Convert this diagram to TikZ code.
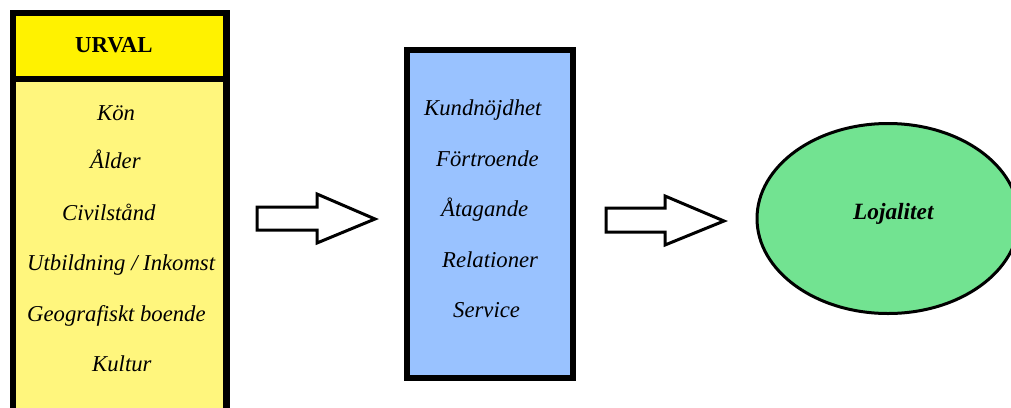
\documentclass[tikz,border=0pt]{standalone}
\usepackage{fontspec}
\setmainfont{Liberation Serif}
\definecolor{hdryellow}{HTML}{FFF200}
\definecolor{lightyellow}{HTML}{FFF67D}
\definecolor{boxblue}{HTML}{99C2FF}
\definecolor{ellgreen}{HTML}{72E391}
\begin{document}
\begin{tikzpicture}[x=1pt,y=-1pt,
  item/.style={anchor=base west,inner sep=0pt,font=\fontsize{22.7}{26}\selectfont\itshape},
  heading/.style={anchor=base west,inner sep=0pt,font=\fontsize{22.8}{26}\selectfont\bfseries},
  blockarrow/.style={draw=black,fill=white,line width=3pt,line join=miter},
  frame/.style={draw=black,line width=6.5pt}]
\useasboundingbox (0,0) rectangle (1011,407);
\clip (0,0) rectangle (1011,407);
% left box
\fill[lightyellow] (13,13) rectangle (226.5,420);
\fill[hdryellow] (13,13) rectangle (226.5,79);
\draw[frame] (13,13) rectangle (226.5,420);
\draw[black,line width=6pt] (13,79) -- (226.5,79);
\node[heading] (urval) at (75,52) {URVAL};
\node[item] (kon) at (97,120) {Kön};
\node[item] (alder) at (90,168) {Ålder};
\node[item] (civ) at (62,220) {Civilstånd};
\node[item] (utb) at (27,270) {Utbildning / Inkomst};
\node[item] (geo) at (27,321) {Geografiskt boende};
\node[item] (kul) at (92,371) {Kultur};
% arrow 1
\coordinate (a1) at (257,207);
\draw[blockarrow] (a1) -- (317,207) -- (317,194) -- (375,219) -- (317,243) -- (317,230) -- (257,230) -- cycle;
% blue box
\draw[fill=boxblue,line width=6pt] (407,50) rectangle (573,378);
\node[item] (kund) at (424,115) {Kundnöjdhet};
\node[item] (fort) at (436,166) {Förtroende};
\node[item] (atag) at (441,216) {Åtagande};
\node[item] (rel) at (442,267) {Relationer};
\node[item] (serv) at (453,317) {Service};
% arrow 2
\coordinate (a2) at (606,208);
\draw[blockarrow] (a2) -- (665,208) -- (665,196) -- (724,221) -- (665,245) -- (665,232) -- (606,232) -- cycle;
% ellipse
\draw[fill=ellgreen,line width=3pt] (888,218.5) ellipse [x radius=131,y radius=95];
\node[anchor=base west,inner sep=0pt,font=\fontsize{23.3}{27}\selectfont\bfseries\itshape] (loj) at (853,219) {Lojalitet};
\end{tikzpicture}
\end{document}
